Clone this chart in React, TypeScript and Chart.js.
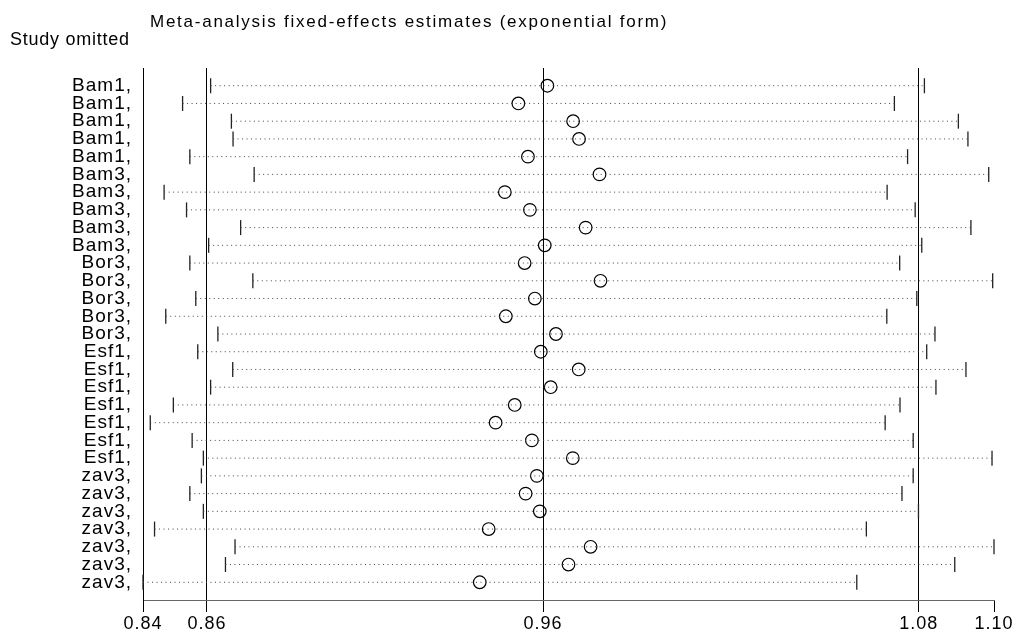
import React, { useEffect, useRef } from 'react';
import { Chart, registerables } from 'chart.js';

Chart.register(...registerables);

const FONT = '"Liberation Sans", Arial, Helvetica, sans-serif';

const chartTitle = 'Meta-analysis fixed-effects estimates (exponential form)';
const yAxisTitle = 'Study omitted';

const studyLabels = [
  'Bam1,', 'Bam1,', 'Bam1,', 'Bam1,', 'Bam1,',
  'Bam3,', 'Bam3,', 'Bam3,', 'Bam3,', 'Bam3,',
  'Bor3,', 'Bor3,', 'Bor3,', 'Bor3,', 'Bor3,',
  'Esf1,', 'Esf1,', 'Esf1,', 'Esf1,', 'Esf1,', 'Esf1,', 'Esf1,',
  'zav3,', 'zav3,', 'zav3,', 'zav3,', 'zav3,', 'zav3,', 'zav3,',
];

const estimates = [
  0.9631, 0.9543, 0.9709, 0.9727, 0.9572,
  0.9789, 0.9502, 0.9578, 0.9747, 0.9623,
  0.9562, 0.9792, 0.9593, 0.9505, 0.9657,
  0.9611, 0.9726, 0.9641, 0.9532, 0.9474, 0.9584, 0.9708,
  0.9599, 0.9565, 0.9608, 0.9453, 0.9762, 0.9695, 0.9426,
];

const lowerCI = [
  0.8610, 0.8525, 0.8673, 0.8678, 0.8547,
  0.8742, 0.8469, 0.8537, 0.8701, 0.8604,
  0.8547, 0.8738, 0.8565, 0.8474, 0.8632,
  0.8571, 0.8677, 0.8610, 0.8497, 0.8427, 0.8554, 0.8588,
  0.8582, 0.8547, 0.8588, 0.8440, 0.8684, 0.8655, 0.8405,
];

const upperCI = [
  1.0774, 1.0683, 1.0877, 1.0906, 1.0723,
  1.0969, 1.0661, 1.0746, 1.0915, 1.0766,
  1.0699, 1.0981, 1.0751, 1.0660, 1.0806,
  1.0781, 1.0900, 1.0809, 1.0700, 1.0655, 1.0740, 1.0979,
  1.0740, 1.0706, 1.0756, 1.0598, 1.0985, 1.0866, 1.0569,
];

const overallLower = 0.8599;
const overallEstimate = 0.9618;
const overallUpper = 1.0757;

const axisMin = Math.min(...lowerCI);
const axisMax = Math.max(...upperCI);

const xTickValues = [axisMin, overallLower, overallEstimate, overallUpper, axisMax];
const xTickLabels = ['0.84', '0.86', '0.96', '1.08', '1.10'];

const textPlugin = {
  id: 'stataText',
  beforeDraw(chart: any) {
    chart.ctx.letterSpacing = '1px';
  },
  afterDraw(chart: any) {
    const ctx = chart.ctx;
    ctx.save();
    ctx.fillStyle = '#000';
    ctx.textAlign = 'left';
    ctx.textBaseline = 'alphabetic';
    ctx.font = `17px ${FONT}`;
    ctx.letterSpacing = '1.75px';
    ctx.fillText(chartTitle, 150, 26.5);
    ctx.font = `18px ${FONT}`;
    ctx.letterSpacing = '0.75px';
    ctx.fillText(yAxisTitle, 10, 45);
    ctx.restore();
  },
};

export default function App() {
  const canvasRef = useRef<HTMLCanvasElement | null>(null);

  useEffect(() => {
    const canvas = canvasRef.current;
    if (!canvas) return;

    const rows = studyLabels.map((_, i) => i + 1);

    const dotted = rows.flatMap((r, i) => [
      { x: lowerCI[i], y: r },
      { x: upperCI[i], y: r },
      { x: upperCI[i], y: null },
    ]);
    const brackets = rows.flatMap((r, i) => [
      { x: lowerCI[i], y: r },
      { x: upperCI[i], y: r },
    ]);
    const circles = rows.map((r, i) => ({ x: estimates[i], y: r }));

    const chart = new Chart(canvas, {
      type: 'scatter',
      data: {
        datasets: [
          {
            data: dotted as any,
            showLine: true,
            spanGaps: false,
            borderColor: '#444',
            borderWidth: 1,
            borderDash: [1, 3.5],
            pointRadius: 0,
            pointHoverRadius: 0,
            clip: false as any,
          },
          {
            data: brackets as any,
            showLine: false,
            pointStyle: 'line',
            rotation: 90,
            pointRadius: 7.5,
            pointHoverRadius: 7.5,
            pointBorderWidth: 1.3,
            pointBorderColor: '#222',
            clip: false as any,
          },
          {
            data: circles as any,
            showLine: false,
            pointStyle: 'circle',
            pointRadius: 6.3,
            pointHoverRadius: 6.3,
            pointBorderWidth: 1.2,
            pointBorderColor: '#000',
            pointBackgroundColor: 'rgba(0,0,0,0)',
            clip: false as any,
          },
        ],
      },
      options: {
        animation: false,
        responsive: false,
        devicePixelRatio: 1,
        events: [],
        layout: { padding: { top: 68, right: 29, bottom: 0, left: 0 } },
        plugins: {
          legend: { display: false },
          tooltip: { enabled: false },
        },
        scales: {
          x: {
            type: 'linear',
            position: 'bottom',
            min: axisMin,
            max: axisMax,
            afterBuildTicks: (s: any) => {
              s.ticks = xTickValues.map((v) => ({ value: v }));
            },
            afterFit: (s: any) => {
              s.height = 36;
            },
            ticks: {
              autoSkip: false,
              maxRotation: 0,
              padding: 1,
              color: '#000',
              font: { family: FONT, size: 18 },
              callback: (_v: any, i: number) => xTickLabels[i],
            },
            grid: {
              color: (ctx: any) => (ctx.index === xTickValues.length - 1 ? 'rgba(0,0,0,0)' : '#000'),
              tickColor: '#000',
              tickLength: 12,
              lineWidth: 1,
              drawOnChartArea: true,
            },
            border: { display: true, color: '#666', width: 1 },
          },
          y: {
            type: 'linear',
            min: 0,
            max: studyLabels.length + 1,
            reverse: true,
            afterBuildTicks: (s: any) => {
              s.ticks = rows.map((v) => ({ value: v }));
            },
            afterFit: (s: any) => {
              s.width = 143;
            },
            ticks: {
              autoSkip: false,
              padding: 11,
              color: '#000',
              font: { family: FONT, size: 19, lineHeight: 1 },
              callback: (v: any) => studyLabels[Number(v) - 1],
            },
            grid: { drawOnChartArea: false, drawTicks: false },
            border: { display: true, color: '#000', width: 1 },
          },
        },
      },
      plugins: [textPlugin],
    });

    return () => {
      chart.destroy();
    };
  }, []);

  return (
    <canvas
      ref={canvasRef}
      width={1023}
      height={636}
      style={{ position: 'absolute', left: 0, top: 0, width: 1023, height: 636, display: 'block' }}
    />
  );
}
